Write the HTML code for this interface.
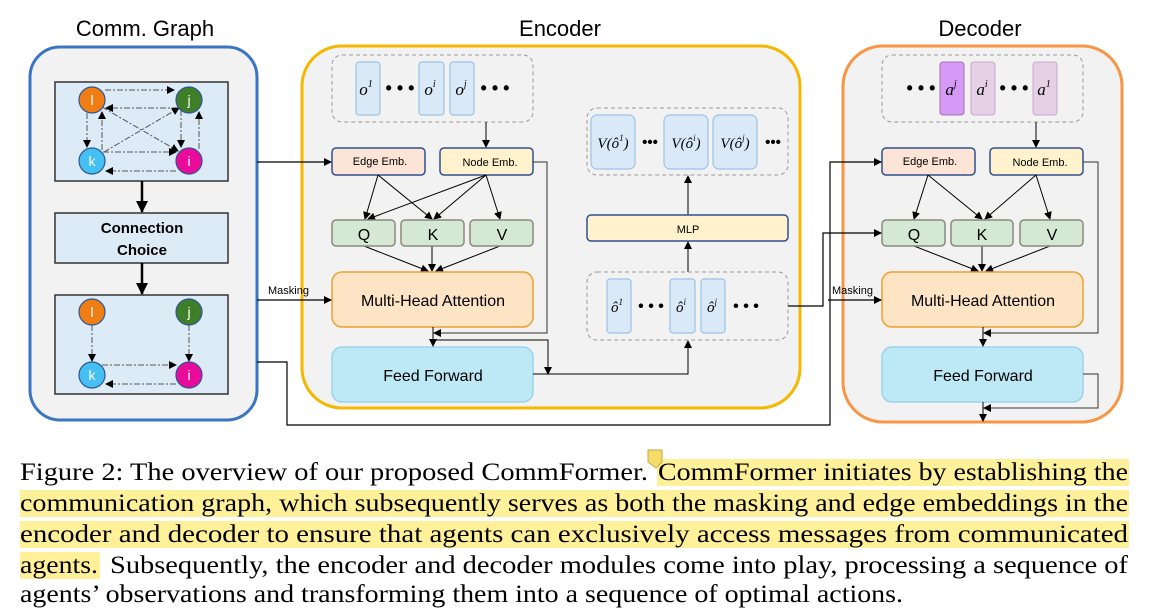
<!DOCTYPE html>
<html><head><meta charset="utf-8"><style>
body{margin:0;background:#fff}
svg{display:block}
.s{font-family:"Liberation Sans",sans-serif}
.m{font-family:"Liberation Serif",serif;font-style:italic}
.c{font-family:"Liberation Serif",serif;font-size:25px}
</style></head><body>
<svg width="1149" height="616" viewBox="0 0 1149 616" xmlns="http://www.w3.org/2000/svg">
<defs>
<marker id="a" markerWidth="8" markerHeight="8" refX="7" refY="4" orient="auto" markerUnits="userSpaceOnUse"><path d="M0,0L8,4L0,8z" fill="#000"/></marker>
<marker id="b" markerWidth="12" markerHeight="12" refX="11" refY="6" orient="auto" markerUnits="userSpaceOnUse"><path d="M0,0L12,6L0,12z" fill="#000"/></marker>
</defs>
<!-- titles -->
<text x="145" y="36" font-size="22" text-anchor="middle" class="s">Comm. Graph</text>
<text x="560" y="36" font-size="22" text-anchor="middle" class="s">Encoder</text>
<text x="980" y="36" font-size="22" text-anchor="middle" class="s">Decoder</text>

<!-- Comm graph -->
<rect x="30" y="47" width="227" height="373" rx="30" fill="#f2f2f2" stroke="#3a75c4" stroke-width="3"/>
<rect x="55" y="82" width="173" height="99" fill="#ddebf7" stroke="#333" stroke-width="1.5"/>
<g stroke="#555" stroke-width="1" stroke-dasharray="6,2,2,2" fill="none" marker-end="url(#a)">
<line x1="105" y1="90" x2="174" y2="90"/>
<line x1="178" y1="108" x2="106" y2="108"/>
<line x1="87" y1="113" x2="87" y2="147"/>
<line x1="102" y1="150" x2="102" y2="112"/>
<line x1="181" y1="110" x2="181" y2="147"/>
<line x1="199" y1="149" x2="199" y2="112"/>
<line x1="103" y1="152" x2="176" y2="152"/>
<line x1="176" y1="171" x2="106" y2="171"/>
<line x1="102" y1="107" x2="178" y2="151"/>
<line x1="104" y1="152" x2="179" y2="108"/>
</g>
<g stroke="#2f5597" stroke-width="1.2">
<circle cx="92" cy="100" r="13" fill="#f07c14"/><circle cx="189" cy="100" r="13" fill="#3f7f27"/>
<circle cx="92" cy="161" r="13" fill="#45c0f2"/><circle cx="189" cy="161" r="13" fill="#ea0b9b"/>
</g>
<g fill="#fff" font-size="14" text-anchor="middle" class="s">
<text x="92" y="105">l</text><text x="189" y="105">j</text><text x="92" y="166">k</text><text x="189" y="166">i</text></g>
<line x1="142" y1="181" x2="142" y2="212" stroke="#000" stroke-width="2.5" marker-end="url(#b)"/>
<rect x="55" y="213" width="173" height="50" fill="#ddebf7" stroke="#333" stroke-width="1.5"/>
<text x="142" y="233" font-size="15" font-weight="bold" text-anchor="middle" class="s">Connection</text>
<text x="142" y="255" font-size="15" font-weight="bold" text-anchor="middle" class="s">Choice</text>
<line x1="142" y1="263" x2="142" y2="294" stroke="#000" stroke-width="2.5" marker-end="url(#b)"/>
<rect x="55" y="295" width="173" height="99" fill="#ddebf7" stroke="#333" stroke-width="1.5"/>
<g stroke="#555" stroke-width="1" stroke-dasharray="6,2,2,2" fill="none" marker-end="url(#a)">
<line x1="92" y1="325" x2="92" y2="361"/>
<line x1="189" y1="325" x2="189" y2="361"/>
<line x1="102" y1="365" x2="176" y2="365"/>
<line x1="176" y1="384" x2="106" y2="384"/>
</g>
<g stroke="#2f5597" stroke-width="1.2">
<circle cx="92" cy="312" r="13" fill="#f07c14"/><circle cx="189" cy="312" r="13" fill="#3f7f27"/>
<circle cx="92" cy="375" r="13" fill="#45c0f2"/><circle cx="189" cy="375" r="13" fill="#ea0b9b"/>
</g>
<g fill="#fff" font-size="14" text-anchor="middle" class="s">
<text x="92" y="317">l</text><text x="189" y="317">j</text><text x="92" y="380">k</text><text x="189" y="380">i</text></g>

<!-- Encoder -->
<rect x="302" y="46" width="498" height="362" rx="40" fill="#f2f2f2" stroke="#f5b800" stroke-width="3"/>
<rect x="332" y="55" width="201" height="67" rx="10" fill="none" stroke="#999" stroke-dasharray="4,3"/>
<g fill="#dae9f8" stroke="#9dc3e6" stroke-width="1.2">
<rect x="356" y="62" width="24" height="53" rx="3"/><rect x="419" y="62" width="25" height="53" rx="3"/><rect x="450" y="62" width="24" height="53" rx="3"/></g>
<g font-size="17" class="m" text-anchor="middle">
<text x="366" y="95">o<tspan font-size="10" dy="-8">1</tspan></text>
<text x="430" y="95">o<tspan font-size="10" dy="-8">i</tspan></text>
<text x="461" y="95">o<tspan font-size="10" dy="-8">j</tspan></text></g>
<text x="400" y="94" font-size="18" text-anchor="middle" class="s" font-weight="bold">• • •</text>
<text x="495" y="94" font-size="18" text-anchor="middle" class="s" font-weight="bold">• • •</text>
<line x1="486" y1="122" x2="486" y2="147" stroke="#000" marker-end="url(#a)"/>
<rect x="332" y="148" width="93" height="27" rx="4" fill="#fce4d6" stroke="#2f4f8f" stroke-width="1.5"/>
<text x="380" y="165" font-size="11" text-anchor="middle" class="s">Edge Emb.</text>
<rect x="440" y="148" width="93" height="27" rx="4" fill="#fff2cc" stroke="#2f4f8f" stroke-width="1.5"/>
<text x="490" y="166" font-size="11" text-anchor="middle" class="s">Node Emb.</text>
<g stroke="#000" fill="none" marker-end="url(#a)">
<line x1="378" y1="175" x2="365" y2="219"/><line x1="378" y1="175" x2="432" y2="219"/>
<line x1="486" y1="175" x2="368" y2="219"/><line x1="486" y1="175" x2="434" y2="219"/><line x1="486" y1="175" x2="500" y2="219"/>
<line x1="364" y1="246" x2="428" y2="271"/><line x1="432" y1="246" x2="432" y2="271"/><line x1="500" y1="246" x2="436" y2="271"/>
</g>
<g fill="#d5e8d4" stroke="#8a8a7a" stroke-width="1.5">
<rect x="332" y="220" width="63" height="26" rx="4"/><rect x="401" y="220" width="63" height="26" rx="4"/><rect x="470" y="220" width="63" height="26" rx="4"/></g>
<g font-size="16" text-anchor="middle" class="s"><text x="364" y="240">Q</text><text x="433" y="240">K</text><text x="502" y="240">V</text></g>
<rect x="332" y="272" width="201" height="55" rx="10" fill="#fce4c4" stroke="#f0a030" stroke-width="1.5"/>
<text x="433" y="306" font-size="16" text-anchor="middle" class="s">Multi-Head Attention</text>
<rect x="332" y="347" width="201" height="55" rx="10" fill="#bde8f5" stroke="#9dd3ea" stroke-width="1.5"/>
<text x="433" y="381" font-size="16" text-anchor="middle" class="s">Feed Forward</text>
<g stroke="#000" fill="none">
<polyline points="533,162 547,162 547,333 434,333" stroke="#333" marker-end="url(#a)"/>
<line x1="433" y1="327" x2="433" y2="346" marker-end="url(#a)"/>
<polyline points="433,340 548,340 548,374" marker-end="url(#a)"/>
<polyline points="533,374 688,374 688,341" marker-end="url(#a)"/>
<line x1="688" y1="272" x2="688" y2="242" marker-end="url(#a)"/>
<line x1="688" y1="215" x2="688" y2="176" marker-end="url(#a)"/>
</g>
<rect x="587" y="108" width="201" height="67" rx="10" fill="none" stroke="#999" stroke-dasharray="4,3"/>
<g fill="#dae9f8" stroke="#9dc3e6" stroke-width="1.2">
<rect x="591" y="115" width="44" height="54" rx="6"/><rect x="664" y="115" width="44" height="54" rx="6"/><rect x="713" y="115" width="44" height="54" rx="6"/></g>
<g font-size="15" class="m" text-anchor="middle">
<text x="613" y="148">V(ô<tspan font-size="9" dy="-7">1</tspan><tspan dy="7">)</tspan></text>
<text x="686" y="148">V(ô<tspan font-size="9" dy="-7">i</tspan><tspan dy="7">)</tspan></text>
<text x="735" y="148">V(ô<tspan font-size="9" dy="-7">j</tspan><tspan dy="7">)</tspan></text></g>
<text x="650" y="147" font-size="15" text-anchor="middle" class="s" font-weight="bold">•••</text>
<text x="773" y="147" font-size="15" text-anchor="middle" class="s" font-weight="bold">•••</text>
<rect x="587" y="215" width="201" height="26" rx="4" fill="#fff2cc" stroke="#2f4f8f" stroke-width="1.5"/>
<text x="688" y="233" font-size="11" text-anchor="middle" class="s">MLP</text>
<rect x="587" y="272" width="201" height="68" rx="10" fill="none" stroke="#999" stroke-dasharray="4,3"/>
<g fill="#dae9f8" stroke="#9dc3e6" stroke-width="1.2">
<rect x="607" y="279" width="24" height="54" rx="3"/><rect x="670" y="279" width="25" height="54" rx="3"/><rect x="701" y="279" width="24" height="54" rx="3"/></g>
<g font-size="15" class="m" text-anchor="middle">
<text x="617" y="312">ô<tspan font-size="9" dy="-7">1</tspan></text>
<text x="681" y="312">ô<tspan font-size="9" dy="-7">i</tspan></text>
<text x="712" y="312">ô<tspan font-size="9" dy="-7">j</tspan></text></g>
<text x="651" y="311" font-size="16" text-anchor="middle" class="s" font-weight="bold">• • •</text>
<text x="746" y="311" font-size="16" text-anchor="middle" class="s" font-weight="bold">• • •</text>

<!-- Decoder -->
<rect x="843" y="46" width="279" height="376" rx="40" fill="#f2f2f2" stroke="#f79646" stroke-width="3"/>
<rect x="882" y="55" width="201" height="67" rx="10" fill="none" stroke="#999" stroke-dasharray="4,3"/>
<rect x="940" y="62" width="24" height="53" rx="3" fill="#d59af6" stroke="#a070b0"/>
<rect x="971" y="62" width="24" height="53" rx="3" fill="#e6d0e6" stroke="#c8a8c8"/>
<rect x="1033" y="62" width="24" height="53" rx="3" fill="#e6d0e6" stroke="#c8a8c8"/>
<g font-size="17" class="m" text-anchor="middle">
<text x="951" y="95">a<tspan font-size="10" dy="-8">j</tspan></text>
<text x="982" y="95">a<tspan font-size="10" dy="-8">i</tspan></text>
<text x="1044" y="95">a<tspan font-size="10" dy="-8">1</tspan></text></g>
<text x="921" y="94" font-size="18" text-anchor="middle" class="s" font-weight="bold">• • •</text>
<text x="1014" y="94" font-size="18" text-anchor="middle" class="s" font-weight="bold">• • •</text>
<line x1="1036" y1="122" x2="1036" y2="147" stroke="#000" marker-end="url(#a)"/>
<rect x="882" y="148" width="93" height="27" rx="4" fill="#fce4d6" stroke="#2f4f8f" stroke-width="1.5"/>
<text x="930" y="165" font-size="11" text-anchor="middle" class="s">Edge Emb.</text>
<rect x="990" y="148" width="93" height="27" rx="4" fill="#fff2cc" stroke="#2f4f8f" stroke-width="1.5"/>
<text x="1040" y="166" font-size="11" text-anchor="middle" class="s">Node Emb.</text>
<g stroke="#000" fill="none" marker-end="url(#a)">
<line x1="928" y1="175" x2="914" y2="219"/><line x1="928" y1="175" x2="982" y2="219"/>
<line x1="1036" y1="175" x2="985" y2="219"/><line x1="1036" y1="175" x2="1050" y2="219"/>
<line x1="914" y1="246" x2="978" y2="271"/><line x1="982" y1="246" x2="982" y2="271"/><line x1="1050" y1="246" x2="986" y2="271"/>
</g>
<g fill="#d5e8d4" stroke="#8a8a7a" stroke-width="1.5">
<rect x="882" y="220" width="63" height="26" rx="4"/><rect x="951" y="220" width="62" height="26" rx="4"/><rect x="1020" y="220" width="63" height="26" rx="4"/></g>
<g font-size="16" text-anchor="middle" class="s"><text x="914" y="240">Q</text><text x="982" y="240">K</text><text x="1052" y="240">V</text></g>
<rect x="882" y="272" width="201" height="55" rx="10" fill="#fce4c4" stroke="#f0a030" stroke-width="1.5"/>
<text x="983" y="306" font-size="16" text-anchor="middle" class="s">Multi-Head Attention</text>
<rect x="882" y="347" width="201" height="55" rx="10" fill="#bde8f5" stroke="#9dd3ea" stroke-width="1.5"/>
<text x="983" y="381" font-size="16" text-anchor="middle" class="s">Feed Forward</text>
<g stroke="#000" fill="none">
<polyline points="1083,162 1098,162 1098,333 984,333" stroke="#333" marker-end="url(#a)"/>
<line x1="983" y1="327" x2="983" y2="346" marker-end="url(#a)"/>
<polyline points="1083,374 1098,374 1098,408 984,408" stroke="#333" marker-end="url(#a)"/>
<line x1="983" y1="402" x2="983" y2="421" marker-end="url(#a)"/>
</g>

<!-- cross connectors -->
<g stroke="#000" fill="none" stroke-width="1.2">
<line x1="257" y1="162" x2="331" y2="162" marker-end="url(#a)"/>
<line x1="257" y1="300" x2="331" y2="300" marker-end="url(#a)"/>
<polyline points="257,362 287,362 287,425 830,425 830,162 881,162" marker-end="url(#a)"/>
<polyline points="788,306 823,306 823,233 881,233" marker-end="url(#a)"/>
<line x1="828" y1="300" x2="881" y2="300" marker-end="url(#a)"/>
</g>
<text x="268" y="294" font-size="11" class="s">Masking</text>
<text x="832" y="294" font-size="11" class="s">Masking</text>

<!-- caption -->
<g fill="#fff09a">
<rect x="657" y="459" width="472" height="27"/>
<rect x="20" y="490" width="1109" height="27"/>
<rect x="20" y="521" width="1109" height="27"/>
<rect x="20" y="552" width="80" height="27"/>
</g>
<path d="M648,450 L662,450 L662,462 L656,468 L648,462z" fill="#f5dc6a" stroke="#c8a840" stroke-width="1"/>
<g class="c">
<text x="20" y="480" textLength="628" lengthAdjust="spacingAndGlyphs">Figure 2: The overview of our proposed CommFormer.</text>
<text x="658" y="480" textLength="470" lengthAdjust="spacingAndGlyphs">CommFormer initiates by establishing the</text>
<text x="20" y="511" textLength="1108" lengthAdjust="spacingAndGlyphs">communication graph, which subsequently serves as both the masking and edge embeddings in the</text>
<text x="20" y="542" textLength="1108" lengthAdjust="spacingAndGlyphs">encoder and decoder to ensure that agents can exclusively access messages from communicated</text>
<text x="20" y="573" textLength="78" lengthAdjust="spacingAndGlyphs">agents.</text>
<text x="110" y="573" textLength="1018" lengthAdjust="spacingAndGlyphs">Subsequently, the encoder and decoder modules come into play, processing a sequence of</text>
<text x="20" y="602" textLength="883" lengthAdjust="spacingAndGlyphs">agents’ observations and transforming them into a sequence of optimal actions.</text>
</g>
</svg>
</body></html>
